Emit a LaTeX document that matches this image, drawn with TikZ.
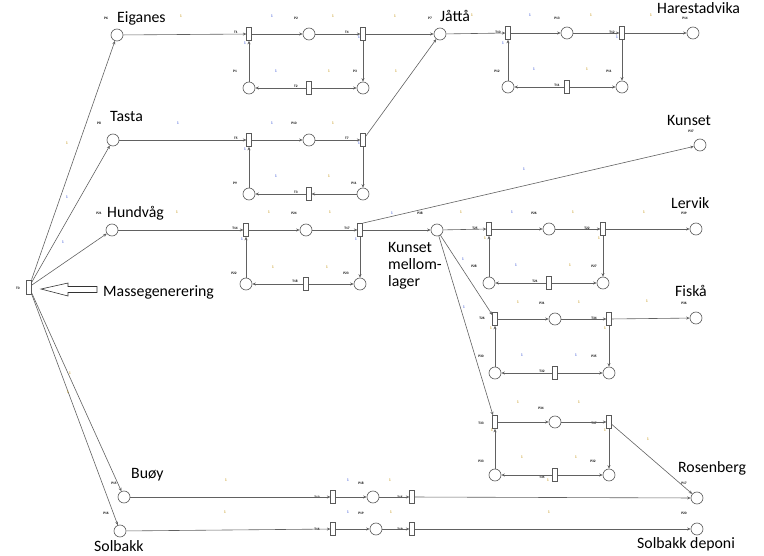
\documentclass[tikz,border=0pt]{standalone}
\usepackage{fontspec}
\setmainfont{Carlito}
\usetikzlibrary{arrows.meta}
\definecolor{wblue}{RGB}{40,70,210}
\definecolor{wolive}{RGB}{190,140,0}
\newcounter{lblc}
\newcommand\mylab[3][lbl]{\stepcounter{lblc}\node[#1] (l\thelblc) at (#2) {#3};}
\newcommand\mybig[2]{\stepcounter{lblc}\node[big] (b\thelblc) at (#1) {#2};}
\begin{document}
\begin{tikzpicture}[x=1pt,y=-1pt,
 place/.style={circle,draw=black!65,line width=0.65pt,minimum size=12pt,inner sep=0pt},
 trans/.style={rectangle,draw=black!65,line width=0.65pt,minimum width=4.5pt,minimum height=13pt,inner sep=0pt},
 arc/.style={draw=black!62,line width=0.6pt,-{Stealth[length=3.5pt,width=3pt]}},
 lbl/.style={font=\fontsize{3.5}{3.5}\selectfont\bfseries,inner sep=0pt,text=black},
 wb/.style={font=\fontsize{4}{4}\selectfont,inner sep=0pt,text=wblue},
 wy/.style={font=\fontsize{4}{4}\selectfont,inner sep=0pt,text=wolive},
 big/.style={font=\fontsize{15.8}{17}\selectfont,inner sep=0pt,text=black,anchor=base west}]
\useasboundingbox (0,0) rectangle (764,555);

% ---- source transition and massegenerering
\node[trans,minimum height=14pt] (T0) at (29,287) {};
\mylab{18,288}{T0}
\draw[black!80,line width=0.6pt] (41,289) -- (68,283) -- (68,286.5) -- (97,286.5) -- (97,292.5) -- (68,292.5) -- (68,296) -- cycle;
\mybig{103,296}{Massegenerering}

% ---- left places
\node[place] (Eig) at (117,35) {}; \mylab{106,18}{P6}  \mybig{117,22}{Eiganes}
\node[place] (Tas) at (113,140) {}; \mylab{99,123}{P8} \mybig{110,121}{Tasta}
\node[place] (Hun) at (112,230) {}; \mylab{99,213}{P21} \mybig{107,217}{Hundvåg}
\node[place] (Buo) at (124,497) {}; \mylab{114,483}{P15} \mybig{131,478}{Buøy}
\node[place] (Sol) at (120,531) {}; \mylab{106,513}{P16} \mybig{94,551}{Solbakk}

\draw[arc] (T0) -- (Eig); \mylab[wy]{67,143}{1}
\draw[arc] (T0) -- (Tas); \mylab[wb]{67,197}{1}
\draw[arc] (T0) -- (Hun); \mylab[wb]{63,242}{1}
\draw[arc] (T0) -- (Buo); \mylab[wy]{70,373}{1}
\draw[arc] (T0) -- (Sol); \mylab[wy]{68,392}{1}

% ---- Eiganes subnet
\node[trans] (T1) at (249,34) {}; \mylab{236,32}{T1}
\node[place] (P2) at (309,34) {}; \mylab{296,18}{P2}
\node[trans] (T4) at (363,34) {}; \mylab{347,32}{T4}
\node[place] (P1) at (249,88) {}; \mylab{235,71}{P1}
\node[trans] (T2) at (309,88) {}; \mylab{296,86}{T2}
\node[place] (P3) at (363,88) {}; \mylab{355,71}{P3}
\node[place] (P7) at (440,34) {}; \mylab{430,18}{P7} \mybig{440,21}{Jåttå}
\draw[arc] (Eig) -- (T1); \mylab[wy]{181,16}{1}
\draw[arc] (T1) -- (P2); \mylab[wb]{272,16}{1}
\draw[arc] (P2) -- (T4); \mylab[wy]{333,16}{1}
\draw[arc] (T4) -- (P7); \mylab[wy]{395,16}{1}
\draw[arc] (T4) -- (P3); \mylab[wb]{359,37}{1}
\draw[arc] (T2) -- (P3); \mylab[wy]{329,71}{1}
\draw[arc] (T2) -- (P1); \mylab[wb]{276,71}{1}
\draw[arc] (P1) -- (T1); \mylab[wb]{245,43}{1}

% ---- Tasta subnet
\node[trans] (T5) at (249,140) {}; \mylab{236,138}{T5}
\node[place] (P10) at (309,140) {}; \mylab{294,123}{P10}
\node[trans] (T7) at (363,140) {}; \mylab{347,138}{T7}
\node[place] (P9) at (249,194) {}; \mylab{235,183}{P9}
\node[trans] (T3) at (309,194) {}; \mylab{296,192}{T3}
\node[place] (P11) at (363,194) {}; \mylab{354,183}{P11}
\draw[arc] (Tas) -- (T5); \mylab[wb]{178,123}{1}
\draw[arc] (T5) -- (P10); \mylab[wb]{272,123}{1}
\draw[arc] (P10) -- (T7); \mylab[wy]{333,123}{1}
\draw[arc] (T7) -- (P7); \mylab[wy]{396,71}{1}
\draw[arc] (T7) -- (P11); \mylab[wb]{359,143}{1}
\draw[arc] (P11) -- (T3); \mylab[wy]{329,176}{1}
\draw[arc] (T3) -- (P9); \mylab[wb]{276,176}{1}
\draw[arc] (P9) -- (T5); \mylab[wb]{245,149}{1}

% ---- Harestadvika subnet
\node[trans] (T10) at (508,33) {}; \mylab{498,32}{T10}
\node[place] (P13) at (567,33) {}; \mylab{557,18}{P13}
\node[trans] (T12) at (622,33) {}; \mylab{612,32}{T12}
\node[place] (P14) at (693,33) {}; \mylab{685,18}{P14} \mybig{657,13}{Harestadvika}
\node[place] (P12) at (508,87) {}; \mylab{497,71}{P12}
\node[trans] (T11) at (567,87) {}; \mylab{557,85}{T11}
\node[place] (P11b) at (622,87) {}; \mylab{609,71}{P11}
\draw[arc] (P7) -- (T10); \mylab[wy]{472,15}{1}
\draw[arc] (T10) -- (P13); \mylab[wb]{530,15}{1}
\draw[arc] (P13) -- (T12); \mylab[wy]{591,15}{1}
\draw[arc] (T12) -- (P14); \mylab[wy]{651,15}{1}
\draw[arc] (T12) -- (P11b); \mylab[wb]{617,37}{1}
\draw[arc] (T11) -- (P11b); \mylab[wy]{587,69}{1}
\draw[arc] (T11) -- (P12); \mylab[wb]{534,69}{1}
\draw[arc] (P12) -- (T10); \mylab[wb]{503,43}{1}

% ---- Hundvåg subnet
\node[trans] (T14) at (246,230) {}; \mylab{235,228}{T14}
\node[place] (P24) at (306,230) {}; \mylab{294,213}{P24}
\node[trans] (T17) at (360,230) {}; \mylab{347,228}{T17}
\node[place] (P22) at (246,284) {}; \mylab{234,273}{P22}
\node[trans] (T18) at (306,284) {}; \mylab{295,281}{T18}
\node[place] (P23) at (360,284) {}; \mylab{346,273}{P23}
\node[place] (P37) at (700,145) {}; \mylab{691,131}{P37} \mybig{667,125}{Kunset}
\node[place] (P38) at (437,230) {}; \mylab{420,213}{P38}
\stepcounter{lblc}\node[font=\fontsize{15.8}{17}\selectfont,inner sep=0pt,align=left,anchor=north west] (kml) at (388,242.5) {Kunset\\mellom-\\lager};
\draw[arc] (Hun) -- (T14); \mylab[wy]{177,212}{1}
\draw[arc] (T14) -- (P24); \mylab[wy]{269,212}{1}
\draw[arc] (P24) -- (T17); \mylab[wy]{330,212}{1}
\draw[arc] (T17) -- (P38); \mylab[wb]{392,213}{1}
\draw[arc] (T17.north east) -- (P37); \mylab[wb]{524,169}{1}
\draw[arc] (T17) -- (P23); \mylab[wb]{356,239}{1}
\draw[arc] (T18) -- (P23); \mylab[wy]{327,267}{1}
\draw[arc] (T18) -- (P22); \mylab[wy]{273,267}{1}
\draw[arc] (P22) -- (T14); \mylab[wb]{242,239}{1}

% ---- Lervik subnet
\node[trans] (T25) at (489,229) {}; \mylab{475,228}{T25}
\node[place] (P26) at (549,229) {}; \mylab{534,213}{P26}
\node[trans] (T22) at (603,229) {}; \mylab{587,228}{T22}
\node[place] (P39) at (696,229) {}; \mylab{684,213}{P39} \mybig{671,208}{Lervik}
\node[place] (P28) at (489,283) {}; \mylab{474,266}{P28}
\node[trans] (T21) at (549,283) {}; \mylab{535,281}{T21}
\node[place] (P27) at (603,283) {}; \mylab{594,266}{P27}
\draw[arc] (P38) -- (T25); \mylab[wy]{461,212}{1}
\draw[arc] (T25) -- (P26); \mylab[wb]{512,212}{1}
\draw[arc] (P26) -- (T22); \mylab[wy]{573,212}{1}
\draw[arc] (T22) -- (P39); \mylab[wy]{644,212}{1}
\draw[arc] (T22) -- (P27); \mylab[wy]{599,238}{1}
\draw[arc] (T21) -- (P27); \mylab[wy]{570,265}{1}
\draw[arc] (T21) -- (P28); \mylab[wb]{516,265}{1}
\draw[arc] (P28) -- (T25); \mylab[wy]{485,238}{1}

% ---- Fiska subnet
\node[trans] (T26) at (495,319) {}; \mylab{482,318}{T26}
\node[place] (P31) at (555,319) {}; \mylab{542,303}{P31}
\node[trans] (T34) at (609,319) {}; \mylab{594,318}{T34}
\node[place] (P36) at (696,318) {}; \mylab{684,303}{P36} \mybig{675,296}{Fiskå}
\node[place] (P30) at (495,373) {}; \mylab{481,356}{P30}
\node[trans] (T32) at (555,373) {}; \mylab{542,371}{T32}
\node[place] (P35) at (609,373) {}; \mylab{594,356}{P35}
\draw[arc] (P38) -- (T26); \mylab[wb]{463,259}{1}
\draw[arc] (T26) -- (P31); \mylab[wy]{518,302}{1}
\draw[arc] (P31) -- (T34); \mylab[wy]{579,302}{1}
\draw[arc] (T34) -- (P36); \mylab[wy]{647,301}{1}
\draw[arc] (T34) -- (P35); \mylab[wy]{605,328}{1}
\draw[arc] (T32) -- (P35); \mylab[wb]{576,355}{1}
\draw[arc] (T32) -- (P30); \mylab[wb]{522,355}{1}
\draw[arc] (P30) -- (T26); \mylab[wy]{491,328}{1}

% ---- Rosenberg subnet
\node[trans] (T33) at (495,422) {}; \mylab{481,423}{T33}
\node[place] (P34) at (555,422) {}; \mylab{541,408}{P34}
\node[trans] (T37) at (609,422) {}; \mylab{594,423}{T37}
\node[place] (P33) at (495,475) {}; \mylab{481,461}{P33}
\node[trans] (T35) at (555,475) {}; \mylab{542,477}{T35}
\node[place] (P32) at (609,475) {}; \mylab{593,461}{P32}
\node[place] (P17) at (697,498) {}; \mylab{684,483}{P17} \mybig{678,472}{Rosenberg}
\node[place] (P20) at (697,529) {}; \mylab{684,513}{P20} \mybig{637,548}{Solbakk deponi}
\draw[arc] (P38) -- (T33); \mylab[wb]{464,307}{1}
\draw[arc] (T33) -- (P34); \mylab[wy]{518,402}{1}
\draw[arc] (P34) -- (T37); \mylab[wy]{579,402}{1}
\draw[arc] (T37) -- (P17); \mylab[wy]{648,439}{1}
\draw[arc] (T37) -- (P32); \mylab[wy]{605,430}{1}
\draw[arc] (T35) -- (P32); \mylab[wy]{576,457}{1}
\draw[arc] (T35) -- (P33); \mylab[wy]{522,457}{1}
\draw[arc] (P33) -- (T33); \mylab[wy]{492,430}{1}
\mylab[wy]{548,480}{1}

% ---- Buoy and Solbakk rows
\node[trans] (T13) at (333,497) {}; \mylab{317,497}{T13}
\node[place] (P18) at (373,497) {}; \mylab{361,483}{P18}
\node[trans] (T15) at (412,497) {}; \mylab{400,497}{T15}
\node[trans] (T16) at (333,529) {}; \mylab{317,529}{T16}
\node[place] (P19) at (376,529) {}; \mylab{361,513}{P19}
\node[trans] (T19) at (412,529) {}; \mylab{400,529}{T19}
\draw[arc] (Buo) -- (T13); \mylab[wy]{226,480}{1}
\draw[arc] (T13) -- (P18); \mylab[wb]{348,480}{1}
\draw[arc] (P18) -- (T15); \mylab[wy]{390,480}{1}
\draw[arc] (T15) -- (P17); \mylab[wy]{549,512}{1}
\draw[arc] (Sol) -- (T16); \mylab[wy]{225,512}{1}
\draw[arc] (T16) -- (P19); \mylab[wb]{348,512}{1}
\draw[arc] (P19) -- (T19); \mylab[wy]{391,512}{1}
\draw[arc] (T19) -- (P20);
\end{tikzpicture}
\end{document}
